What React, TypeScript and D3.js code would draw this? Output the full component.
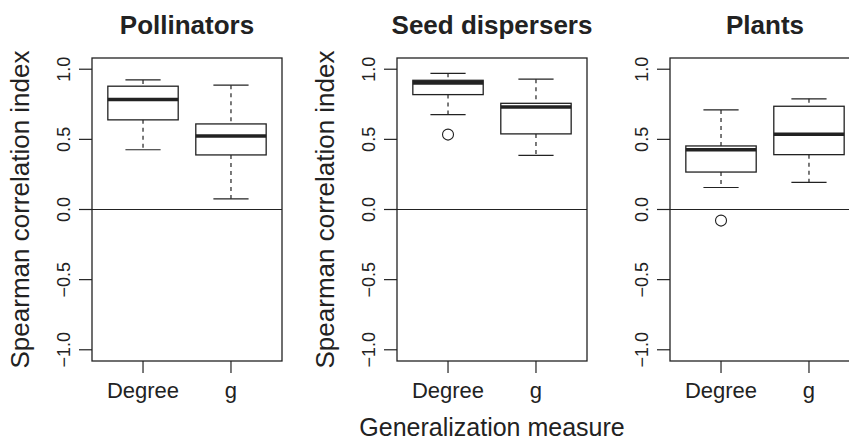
import React from 'react';
import * as d3 from 'd3';

// panels and groups
const panelTitles = ['Pollinators', 'Seed dispersers', 'Plants'];
const measures = ['Degree', 'g'];

// box stats per panel, per measure (Degree, g)
const lowerWhisker = [[0.426, 0.076], [0.676, 0.386], [0.157, 0.193]];
const lowerHinge = [[0.639, 0.389], [0.819, 0.539], [0.267, 0.391]];
const medians = [[0.784, 0.524], [0.903, 0.731], [0.426, 0.536]];
const upperHinge = [[0.879, 0.61], [0.921, 0.757], [0.453, 0.736]];
const upperWhisker = [[0.924, 0.886], [0.971, 0.929], [0.71, 0.789]];
const outliers: number[][][] = [[[], []], [[0.534], []], [[-0.079], []]];

const yTicks = [-1, -0.5, 0, 0.5, 1];

const FONT = '"Liberation Sans", Arial, Helvetica, sans-serif';
const INK = '#222';

const W = 849;
const H = 441;
const panelLeft = [92, 397, 670];
const panelWidth = 190;
const plotTop = 58;
const plotBottom = 361;

const fmt = (v: number) => d3.format('.1f')(v).replace('-', '\u2212');

const Panel: React.FC<{ idx: number }> = ({ idx }) => {
  const left = panelLeft[idx];
  const x = d3.scaleLinear().domain([0.42, 2.58]).range([left, left + panelWidth]);
  const y = d3.scaleLinear().domain([-1.08, 1.08]).range([plotBottom, plotTop]);
  const unit = x(1) - x(0);
  const boxW = unit * 0.8;
  const capW = unit * 0.4;
  const cx = (i: number) => x(i + 1);

  return (
    <g>
      <text
        x={left + panelWidth / 2}
        y={34}
        textAnchor="middle"
        fontFamily={FONT}
        fontWeight="bold"
        fontSize={26}
        fill={INK}
      >
        {panelTitles[idx]}
      </text>

      {/* zero reference */}
      <line x1={left} x2={left + panelWidth} y1={y(0)} y2={y(0)} stroke={INK} strokeWidth={1.1} />

      {measures.map((m, i) => {
        const c = cx(i);
        return (
          <g key={m}>
            <line x1={c} x2={c} y1={y(upperWhisker[idx][i])} y2={y(upperHinge[idx][i])}
              stroke={INK} strokeWidth={1.2} strokeDasharray="4,4" />
            <line x1={c} x2={c} y1={y(lowerHinge[idx][i])} y2={y(lowerWhisker[idx][i])}
              stroke={INK} strokeWidth={1.2} strokeDasharray="4,4" />
            <line x1={c - capW / 2} x2={c + capW / 2} y1={y(upperWhisker[idx][i])} y2={y(upperWhisker[idx][i])}
              stroke={INK} strokeWidth={1.2} />
            <line x1={c - capW / 2} x2={c + capW / 2} y1={y(lowerWhisker[idx][i])} y2={y(lowerWhisker[idx][i])}
              stroke={INK} strokeWidth={1.2} />
            <rect
              x={c - boxW / 2}
              y={y(upperHinge[idx][i])}
              width={boxW}
              height={y(lowerHinge[idx][i]) - y(upperHinge[idx][i])}
              fill="#fff"
              stroke={INK}
              strokeWidth={1.3}
            />
            <line x1={c - boxW / 2} x2={c + boxW / 2} y1={y(medians[idx][i])} y2={y(medians[idx][i])}
              stroke={INK} strokeWidth={3.6} />
            {outliers[idx][i].map((o, k) => (
              <circle key={k} cx={c} cy={y(o)} r={5.5} fill="none" stroke={INK} strokeWidth={1.1} />
            ))}
          </g>
        );
      })}

      {/* frame */}
      <rect x={left} y={plotTop} width={panelWidth} height={plotBottom - plotTop}
        fill="none" stroke={INK} strokeWidth={1.3} />

      {/* y axis */}
      {yTicks.map((t) => (
        <g key={t}>
          <line x1={left - 13} x2={left} y1={y(t)} y2={y(t)} stroke={INK} strokeWidth={1.2} />
          <text
            transform={`translate(${left - 22},${y(t)}) rotate(-90)`}
            textAnchor="middle"
            fontFamily={FONT}
            fontSize={18}
            fill={INK}
          >
            {fmt(t)}
          </text>
        </g>
      ))}

      {/* x axis */}
      {measures.map((m, i) => (
        <g key={m}>
          <line x1={cx(i)} x2={cx(i)} y1={plotBottom} y2={plotBottom + 12} stroke={INK} strokeWidth={1.2} />
          <text x={cx(i)} y={398} textAnchor="middle" fontFamily={FONT} fontSize={22} fill={INK}>
            {m}
          </text>
        </g>
      ))}

      {idx < 2 && (
        <text
          transform={`translate(${left - 63},${(plotTop + plotBottom) / 2}) rotate(-90)`}
          textAnchor="middle"
          fontFamily={FONT}
          fontSize={26}
          fill={INK}
        >
          Spearman correlation index
        </text>
      )}
    </g>
  );
};

export default function App() {
  return (
    <div>
      <style>{'body{margin:0}'}</style>
      <svg width={W} height={H} viewBox={`0 0 ${W} ${H}`} style={{ display: 'block', background: '#fff' }}>
        {panelTitles.map((_, i) => (
          <Panel key={i} idx={i} />
        ))}
        <text
          x={panelLeft[1] + panelWidth / 2}
          y={436}
          textAnchor="middle"
          fontFamily={FONT}
          fontSize={25}
          fill={INK}
        >
          Generalization measure
        </text>
      </svg>
    </div>
  );
}
